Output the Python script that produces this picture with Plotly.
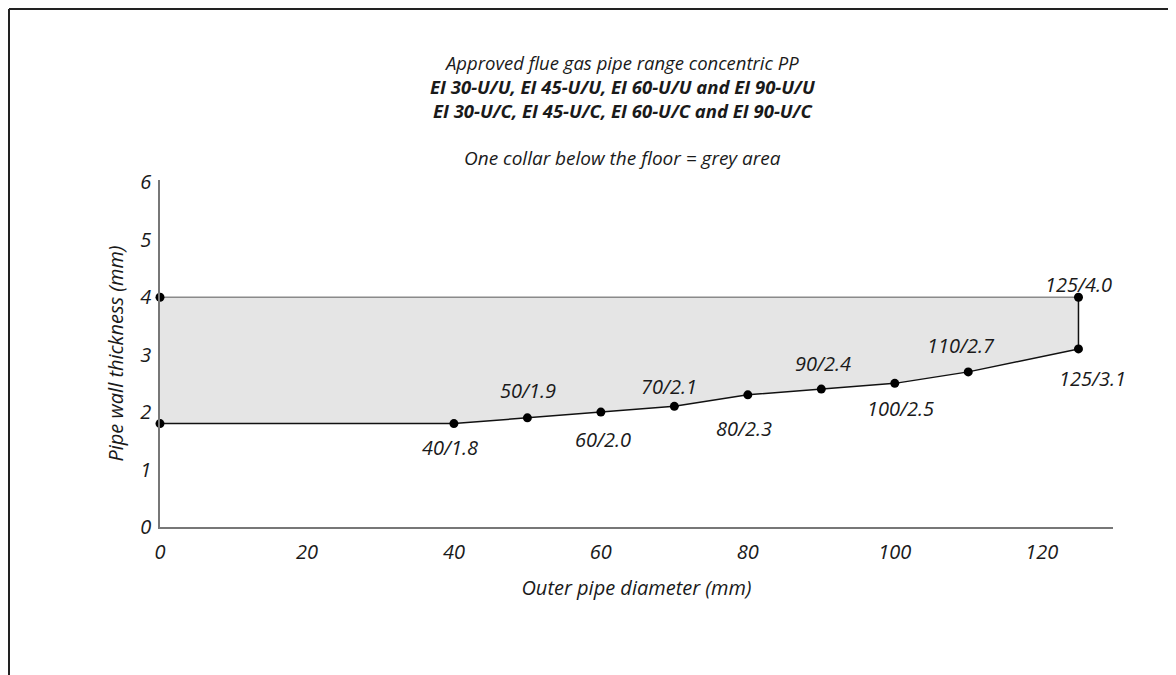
import plotly.graph_objects as go

# Data
upper_x = [0, 125]
upper_y = [4.0, 4.0]
lower_x = [0, 40, 50, 60, 70, 80, 90, 100, 110, 125]
lower_y = [1.8, 1.8, 1.9, 2.0, 2.1, 2.3, 2.4, 2.5, 2.7, 3.1]
x_ticks = [0, 20, 40, 60, 80, 100, 120]
y_ticks = [0, 1, 2, 3, 4, 5, 6]

label_x = [40, 50, 60, 70, 80, 90, 100, 110, 125, 125]
label_y = [1.8, 1.9, 2.0, 2.1, 2.3, 2.4, 2.5, 2.7, 3.1, 4.0]

# label offsets in pixels (style only)
label_shift = [(-4, -24), (1, 27), (2, -27), (-5, 20), (-4, -34), (2, 26),
               (6, -25), (-7, 26), (14, -30), (0, 13)]

FONT = "Open Sans"
# the page body has an 8 px margin, so the figure is drawn 8 px in from the window edge
OFF = 8
W, H = 1176 - OFF, 675 - OFF
L, R, T, B = 160 - OFF, 63, 180 - OFF, 148
PW, PH = W - L - R, H - T - B

def px(xp):  # page pixel -> paper
    return (xp - OFF - L) / PW

def py(yp):
    return (H - B - (yp - OFF)) / PH

fig = go.Figure()

poly_x = upper_x + lower_x[::-1]
poly_y = upper_y + lower_y[::-1]
fig.add_trace(go.Scatter(x=poly_x, y=poly_y, fill="toself", fillcolor="#e5e5e5",
                         mode="lines", line=dict(width=0), hoverinfo="skip", showlegend=False))
fig.add_trace(go.Scatter(x=upper_x, y=upper_y, mode="lines",
                         line=dict(color="#8a8a8a", width=1.5), showlegend=False))
fig.add_trace(go.Scatter(x=[upper_x[-1], lower_x[-1]], y=[upper_y[-1], lower_y[-1]], mode="lines",
                         line=dict(color="#111111", width=1.5), showlegend=False))
fig.add_trace(go.Scatter(x=lower_x, y=lower_y, mode="lines",
                         line=dict(color="#111111", width=1.5), showlegend=False))
fig.add_trace(go.Scatter(x=upper_x + lower_x, y=upper_y + lower_y, mode="markers",
                         marker=dict(color="#000000", size=9), showlegend=False, cliponaxis=False))

annotations = []
for xv, yv, (xs, ys) in zip(label_x, label_y, label_shift):
    annotations.append(dict(x=xv, y=yv, xref="x", yref="y", text=f"{xv}/{yv:.1f}",
                            showarrow=False, xshift=xs, yshift=ys,
                            font=dict(family=FONT, size=20, color="#1a1a1a", style="italic")))

title_text = ("Approved flue gas pipe range concentric PP<br>"
              "<b>EI 30-U/U, EI 45-U/U, EI 60-U/U and EI 90-U/U</b><br>"
              "<b>EI 30-U/C, EI 45-U/C, EI 60-U/C and EI 90-U/C</b>")
annotations.append(dict(x=px(622), y=py(87), xref="paper", yref="paper", text=title_text,
                        showarrow=False, xanchor="center", yanchor="middle", align="center",
                        font=dict(family=FONT, size=18.5, color="#1a1a1a", style="italic")))
annotations.append(dict(x=px(622), y=py(158), xref="paper", yref="paper",
                        text="One collar below the floor = grey area",
                        showarrow=False, xanchor="center", yanchor="middle",
                        font=dict(family=FONT, size=19, color="#1a1a1a", style="italic")))

fig.update_layout(
    width=W, height=H,
    margin=dict(l=L, r=R, t=T, b=B, pad=0),
    paper_bgcolor="white", plot_bgcolor="white",
    showlegend=False,
    annotations=annotations,
    font=dict(family=FONT, color="#1a1a1a"),
    xaxis=dict(range=[0, 129.7], tickvals=x_ticks, showgrid=False, zeroline=False,
               showline=True, linecolor="#777777", linewidth=1.5, ticks="",
               ticklabelstandoff=6,
               tickfont=dict(family=FONT, size=20, style="italic", color="#1a1a1a"),
               title=dict(text="Outer pipe diameter (mm)", standoff=17,
                          font=dict(family=FONT, size=20, style="italic", color="#1a1a1a"))),
    yaxis=dict(range=[0, 6.04], tickvals=y_ticks, showgrid=False, zeroline=False,
               showline=True, linecolor="#777777", linewidth=1.5, ticks="",
               ticklabelstandoff=3,
               tickfont=dict(family=FONT, size=20, style="italic", color="#1a1a1a"),
               title=dict(text="Pipe wall thickness (mm)", standoff=11,
                          font=dict(family=FONT, size=20, style="italic", color="#1a1a1a"))),
    shapes=[
        dict(type="line", xref="paper", yref="paper", x0=px(9), x1=px(9), y0=py(9), y1=py(680),
             line=dict(color="#222222", width=2)),
        dict(type="line", xref="paper", yref="paper", x0=px(9), x1=px(1190), y0=py(9), y1=py(9),
             line=dict(color="#222222", width=2)),
    ],
)

fig.write_html("out.html")
